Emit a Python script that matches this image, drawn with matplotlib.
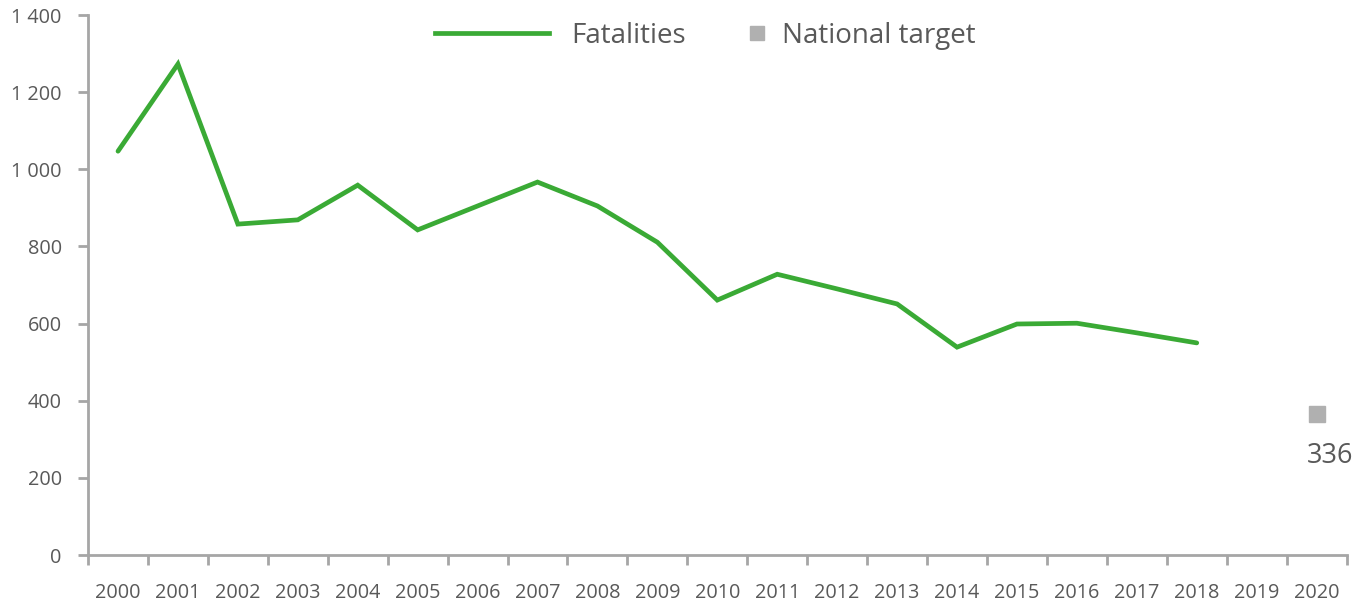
import matplotlib.pyplot as plt
from matplotlib.ticker import FuncFormatter, FixedLocator
from matplotlib.lines import Line2D

plt.rcParams['font.family'] = ['Open Sans', 'DejaVu Sans']

years = [str(y) for y in range(2000, 2021)]
fatality_years = list(range(2000, 2019))
fatalities = [1047, 1273, 858, 869, 959, 843, 905, 967, 905, 811,
              661, 728, 690, 651, 539, 599, 601, 576, 550]
target_year = 2020
target_pos = 366
target_label = '336'

green = '#3aaa35'
grey = '#b0b0b0'
spine_c = '#a6a6a6'
text_c = '#595959'

fig = plt.figure(figsize=(13.65, 6.02), dpi=100)
ax = fig.add_axes([0.0645, 0.078, 0.922, 0.897])

x_f = [y - 2000 for y in fatality_years]
ax.plot(x_f, fatalities, color=green, lw=3.4, solid_capstyle='round',
        solid_joinstyle='miter')
ax.plot([target_year - 2000], [target_pos], ls='none', marker='s',
        ms=11.5, color=grey)
ax.annotate(target_label, (target_year - 2000, target_pos), xytext=(13, -42),
            textcoords='offset pixels', ha='center', va='center',
            fontsize=19.5, color=text_c)

ax.set_xlim(-0.5, len(years) - 0.5)
ax.set_ylim(0, 1400)

ax.xaxis.set_major_locator(FixedLocator([i - 0.5 for i in range(len(years) + 1)]))
ax.xaxis.set_major_formatter(FuncFormatter(lambda v, p: ''))
ax.xaxis.set_minor_locator(FixedLocator(range(len(years))))
ax.set_xticklabels(years, minor=True)
ax.tick_params(axis='x', which='major', length=7, width=2, color=spine_c)
ax.tick_params(axis='x', which='minor', length=0, pad=20, labelsize=14.3, labelcolor=text_c)

ax.set_yticks(range(0, 1401, 200))
ax.yaxis.set_major_formatter(FuncFormatter(lambda v, p: f'{int(v):,}'.replace(',', ' ')))
ax.tick_params(axis='y', length=7, width=2, color=spine_c, labelsize=14.3,
               labelcolor=text_c, pad=12)

for s in ['top', 'right']:
    ax.spines[s].set_visible(False)
for s in ['left', 'bottom']:
    ax.spines[s].set_color(spine_c)
    ax.spines[s].set_linewidth(2)

h_line = Line2D([], [], color=green, lw=3.4)
h_mark = Line2D([], [], ls='none', marker='s', ms=10, color=grey)
leg_y = 1 - 36 / 602
leg1 = fig.legend([h_line], ['Fatalities'], loc='center left',
                  bbox_to_anchor=(435 / 1365, leg_y), frameon=False, fontsize=20,
                  handlelength=4.1, handletextpad=0.8, borderpad=0, borderaxespad=0,
                  labelcolor=text_c)
leg2 = fig.legend([h_mark], ['National target'], loc='center left',
                  bbox_to_anchor=(743 / 1365, leg_y), frameon=False, fontsize=20,
                  handlelength=1.0, handletextpad=0.4, borderpad=0, borderaxespad=0,
                  labelcolor=text_c)

fig.savefig('out.png', dpi=100)
